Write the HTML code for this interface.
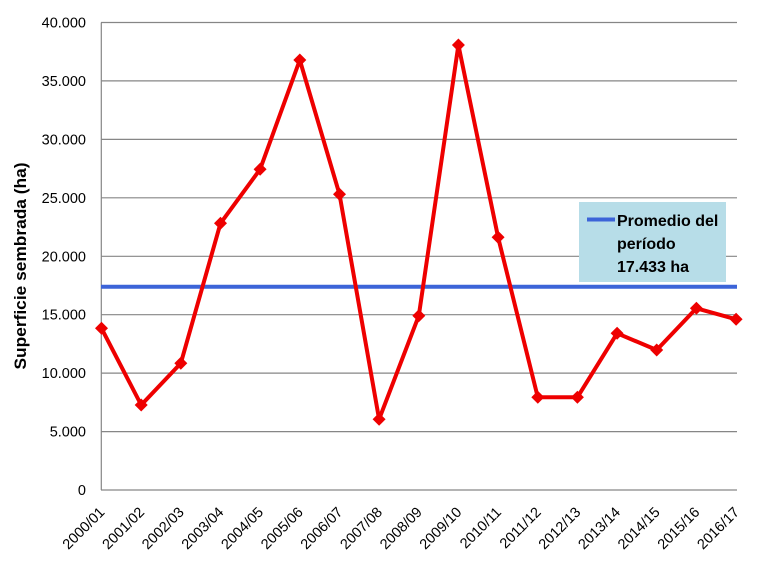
<!DOCTYPE html>
<html>
<head>
<meta charset="utf-8">
<style>
html,body{margin:0;padding:0;background:#fff;}
svg{display:block;}
text{font-family:"Liberation Sans",Arial,sans-serif;fill:#000;}
</style>
</head>
<body>
<svg width="771" height="562" viewBox="0 0 771 562" xmlns="http://www.w3.org/2000/svg">
<rect x="0" y="0" width="771" height="562" fill="#fff"/>
<g stroke="#868686" stroke-width="1.2">
<line x1="101" y1="22.5" x2="737" y2="22.5"/>
<line x1="101" y1="80.9" x2="737" y2="80.9"/>
<line x1="101" y1="139.4" x2="737" y2="139.4"/>
<line x1="101" y1="197.8" x2="737" y2="197.8"/>
<line x1="101" y1="256.3" x2="737" y2="256.3"/>
<line x1="101" y1="314.7" x2="737" y2="314.7"/>
<line x1="101" y1="373.1" x2="737" y2="373.1"/>
<line x1="101" y1="431.6" x2="737" y2="431.6"/>
<line x1="101" y1="490" x2="737" y2="490"/>
<line x1="101.3" y1="22.5" x2="101.3" y2="490"/>
</g>
<g font-size="14.5" text-anchor="end">
<text x="86" y="27.5">40.000</text>
<text x="86" y="85.9">35.000</text>
<text x="86" y="144.4">30.000</text>
<text x="86" y="202.8">25.000</text>
<text x="86" y="261.3">20.000</text>
<text x="86" y="319.7">15.000</text>
<text x="86" y="378.1">10.000</text>
<text x="86" y="436.6">5.000</text>
<text x="86" y="495">0</text>
</g>
<text transform="translate(26,266) rotate(-90)" text-anchor="middle" font-size="17" font-weight="bold" textLength="207" lengthAdjust="spacingAndGlyphs">Superficie sembrada  (ha)</text>
<g font-size="14.5" text-anchor="end">
<text transform="translate(105.5,513) rotate(-45)">2000/01</text>
<text transform="translate(145.2,513) rotate(-45)">2001/02</text>
<text transform="translate(184.8,513) rotate(-45)">2002/03</text>
<text transform="translate(224.5,513) rotate(-45)">2003/04</text>
<text transform="translate(264.1,513) rotate(-45)">2004/05</text>
<text transform="translate(303.8,513) rotate(-45)">2005/06</text>
<text transform="translate(343.5,513) rotate(-45)">2006/07</text>
<text transform="translate(383.1,513) rotate(-45)">2007/08</text>
<text transform="translate(422.8,513) rotate(-45)">2008/09</text>
<text transform="translate(462.4,513) rotate(-45)">2009/10</text>
<text transform="translate(502.1,513) rotate(-45)">2010/11</text>
<text transform="translate(541.8,513) rotate(-45)">2011/12</text>
<text transform="translate(581.4,513) rotate(-45)">2012/13</text>
<text transform="translate(621.1,513) rotate(-45)">2013/14</text>
<text transform="translate(660.7,513) rotate(-45)">2014/15</text>
<text transform="translate(700.4,513) rotate(-45)">2015/16</text>
<text transform="translate(740.1,513) rotate(-45)">2016/17</text>
</g>
<rect x="579" y="202" width="147" height="80" fill="#b7dde8"/>
<line x1="587" y1="219.5" x2="615" y2="219.5" stroke="#3c64d8" stroke-width="4"/>
<g font-size="16" font-weight="bold">
<text x="617" y="226">Promedio del</text>
<text x="617" y="249">período</text>
<text x="617" y="272">17.433 ha</text>
</g>
<line x1="101" y1="286.7" x2="737" y2="286.7" stroke="#3c64d8" stroke-width="4"/>
<polyline fill="none" stroke="#ee0000" stroke-width="4" stroke-linejoin="round"
points="101.5,328.3 141.2,405 180.8,363.3 220.5,223.3 260.1,169.3 299.8,60 339.5,194.3 379.1,419.3 418.8,315.7 458.4,45 498.1,237.3 537.8,397.3 577.4,397.3 617.1,333.3 656.7,350 696.4,308.3 736.1,319.3"/>
<g fill="#ee0000">
<path d="M101.5,321.8 l6.5,6.5 l-6.5,6.5 l-6.5,-6.5z"/>
<path d="M141.2,398.5 l6.5,6.5 l-6.5,6.5 l-6.5,-6.5z"/>
<path d="M180.8,356.8 l6.5,6.5 l-6.5,6.5 l-6.5,-6.5z"/>
<path d="M220.5,216.8 l6.5,6.5 l-6.5,6.5 l-6.5,-6.5z"/>
<path d="M260.1,162.8 l6.5,6.5 l-6.5,6.5 l-6.5,-6.5z"/>
<path d="M299.8,53.5 l6.5,6.5 l-6.5,6.5 l-6.5,-6.5z"/>
<path d="M339.5,187.8 l6.5,6.5 l-6.5,6.5 l-6.5,-6.5z"/>
<path d="M379.1,412.8 l6.5,6.5 l-6.5,6.5 l-6.5,-6.5z"/>
<path d="M418.8,309.2 l6.5,6.5 l-6.5,6.5 l-6.5,-6.5z"/>
<path d="M458.4,38.5 l6.5,6.5 l-6.5,6.5 l-6.5,-6.5z"/>
<path d="M498.1,230.8 l6.5,6.5 l-6.5,6.5 l-6.5,-6.5z"/>
<path d="M537.8,390.8 l6.5,6.5 l-6.5,6.5 l-6.5,-6.5z"/>
<path d="M577.4,390.8 l6.5,6.5 l-6.5,6.5 l-6.5,-6.5z"/>
<path d="M617.1,326.8 l6.5,6.5 l-6.5,6.5 l-6.5,-6.5z"/>
<path d="M656.7,343.5 l6.5,6.5 l-6.5,6.5 l-6.5,-6.5z"/>
<path d="M696.4,301.8 l6.5,6.5 l-6.5,6.5 l-6.5,-6.5z"/>
<path d="M736.1,312.8 l6.5,6.5 l-6.5,6.5 l-6.5,-6.5z"/>
</g>
</svg>
</body>
</html>
